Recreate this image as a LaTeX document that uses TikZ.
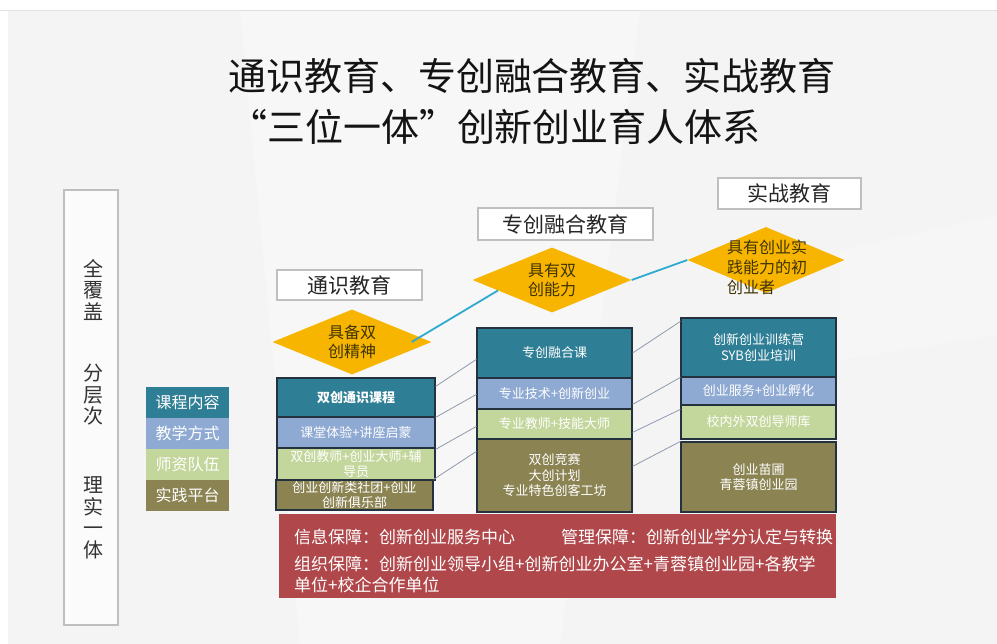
\documentclass[tikz,border=0pt]{standalone}
\usepackage{fontspec}
\setmainfont{Noto Sans CJK SC}
\usepackage{xcolor}
\usetikzlibrary{shapes,arrows,positioning,calc,arrows.meta}

\definecolor{tealc}{HTML}{2E7E95}
\definecolor{bluec}{HTML}{8EA9D2}
\definecolor{greenc}{HTML}{C3D69B}
\definecolor{olivec}{HTML}{8B8352}
\definecolor{redc}{HTML}{B0474A}
\definecolor{goldc}{HTML}{F7B500}
\definecolor{goaltextc}{HTML}{3F3300}
\definecolor{linkc}{HTML}{2EAAD0}
\definecolor{guidec}{HTML}{8D9AAE}
\definecolor{framec}{HTML}{BFBFBF}
\definecolor{bgc}{HTML}{F4F4F4}
\definecolor{edgec}{HTML}{243240}

\begin{document}
\begin{tikzpicture}[x=1pt,y=-1pt,
    tier/.style={draw=edgec, line width=1.2pt, text=white, align=center, inner sep=0pt,
        font=\fontsize{13}{15.5}\selectfont},
    header/.style={draw=framec, line width=1.5pt, fill=white, text=black!85,
        inner sep=0pt, font=\fontsize{21}{24}\selectfont},
    goal/.style={diamond, fill=goldc, inner sep=0pt, shape aspect=2.4,
        minimum width=159pt, minimum height=65pt, align=center, text=goaltextc,
        font=\fontsize{16}{19}\selectfont},
    goaltext/.style={text=goaltextc, align=left, inner sep=0pt, font=\fontsize{16}{20}\selectfont},
    keybox/.style={minimum width=83pt, minimum height=31pt, inner sep=0pt, text=white,
        font=\fontsize{16}{19}\selectfont},
    vtext/.style={align=center, inner sep=0pt, text=black!80, font=\fontsize{20}{21.5}\selectfont},
    supp/.style={text=white, inner sep=0pt, align=left, font=\fontsize{17}{21}\selectfont},
    link/.style={linkc, line width=1.8pt},
    guide/.style={guidec, line width=0.8pt}
]
    \useasboundingbox (0,0) rectangle (997,644);

    % Background
    \fill[white] (0,0) rectangle (997,644);
    \fill[bgc] (8,10) rectangle (997,644);
    \fill[white!30!bgc] (240,10) -- (640,10) -- (560,644) -- (300,644) -- cycle;
    \fill[black!3.5] (840,250) -- (997,215) -- (997,335) -- (840,360) -- cycle;
    \draw[black!12, line width=0.6pt] (0,10) -- (997,10);

    % Title
    \node[font=\fontsize{38}{44}\selectfont, text=black!92] (title1) at (532,76) {通识教育、专创融合教育、实战教育};
    \node[font=\fontsize{38}{44}\selectfont, text=black!92] (title2) at (495,127) {“三位一体”创新创业育人体系};

    % Left span
    \node[draw=framec, line width=1.5pt, fill=white!60!bgc, minimum width=54pt, minimum height=435pt] (span) at (91,407.5) {};
    \node[vtext] (cover) at (93,290) {全\\覆\\盖};
    \node[vtext] (levels) at (93,395) {分\\层\\次};
    \node[vtext] (unity) at (93,518) {理\\实\\一\\体};

    % Legend
    \foreach \lab/\col [count=\i] in {课程内容/tealc, 教学方式/bluec, 师资队伍/greenc, 实践平台/olivec}
        \node[keybox, fill=\col] (k\i) at (187.5,371.5+31*\i) {\lab};

    % Headers
    \node[header, minimum width=145pt, minimum height=30pt] (h1) at (349.5,285) {通识教育};
    \node[header, minimum width=175pt, minimum height=32pt] (h2) at (565.5,224) {专创融合教育};
    \node[header, minimum width=143pt, minimum height=31pt] (h3) at (789.5,193.5) {实战教育};

    % Goals
    \node[goal] (d1) at (352,342) {具备双\\创精神};
    \node[goal] (d2) at (552,280) {具有双\\创能力};
    \node[goal, minimum width=157pt, minimum height=66pt] (d3) at (766,260) {};
    \node[goaltext, anchor=west] (d3t) at (727,267) {具有创业实\\践能力的初\\创业者};

    % Left column
    \node[tier, fill=tealc, minimum width=158pt, minimum height=39pt] (l1) at (356,397.5) {\bfseries 双创通识课程};
    \node[tier, fill=bluec, minimum width=158pt, minimum height=31pt] (l2) at (356,432.5) {课堂体验+讲座启蒙};
    \node[tier, fill=greenc, minimum width=158pt, minimum height=32pt] (l3) at (356,464) {双创教师+创业大师+辅\\导员};
    \node[tier, fill=olivec, minimum width=157pt, minimum height=30pt] (l4) at (354.5,495) {创业创新类社团+创业\\创新俱乐部};

    % Middle column
    \node[tier, fill=tealc, minimum width=155pt, minimum height=50pt] (m1) at (554.5,353) {专创融合课};
    \node[tier, fill=bluec, minimum width=155pt, minimum height=31pt] (m2) at (554.5,393.5) {专业技术+创新创业};
    \node[tier, fill=greenc, minimum width=155pt, minimum height=30pt] (m3) at (554.5,424) {专业教师+技能大师};
    \node[tier, fill=olivec, minimum width=155pt, minimum height=73pt] (m4) at (554.5,475.5) {双创竞赛\\大创计划\\专业特色创客工坊};

    % Right column
    \node[tier, fill=tealc, minimum width=155pt, minimum height=59pt] (r1) at (758.5,347.5) {创新创业训练营\\SYB创业培训};
    \node[tier, fill=bluec, minimum width=155pt, minimum height=28pt] (r2) at (758.5,391) {创业服务+创业孵化};
    \node[tier, fill=greenc, minimum width=155pt, minimum height=34pt] (r3) at (758.5,422) {校内外双创导师库};
    \node[tier, fill=olivec, minimum width=155pt, minimum height=70pt] (r4) at (758.5,477) {创业苗圃\\青蓉镇创业园};

    % Guides between columns
    \draw[guide] ([yshift=-9pt]l1.north east) -- ([yshift=-32pt]m1.north west);
    \draw[guide] ([yshift=-1pt]l2.north east) -- ([yshift=-17pt]m2.north west);
    \draw[guide] ([yshift=-2pt]l3.north east) -- ([yshift=-18pt]m3.north west);
    \draw[guide] (l4.north east) -- ([yshift=-13pt]m4.north west);
    \draw[guide] (m1.east) -- ([yshift=-4pt]r1.north west);
    \draw[guide] ([yshift=-27pt]m2.north east) -- ([yshift=-1pt]r2.north west);
    \draw[guide] ([yshift=-24pt]m3.north east) -- ([yshift=-5pt]r3.north west);
    \draw[guide] ([yshift=-28pt]m4.north east) -- (r4.north west);

    % Growth line
    \draw[link] ([xshift=-20pt]d1.east) -- (d2.191);
    \draw[link] (d2.east) -- (d3.west);

    % Support
    \node[fill=redc, minimum width=557pt, minimum height=84pt, inner sep=0pt] (support) at (557.5,556) {};
    \node[supp, anchor=west] (info) at (294,537) {信息保障：创新创业服务中心};
    \node[supp, anchor=west] (mgmt) at (561,537) {管理保障：创新创业学分认定与转换};
    \node[supp, anchor=west] (org) at (294,574) {组织保障：创新创业领导小组+创新创业办公室+青蓉镇创业园+各教学\\单位+校企合作单位};
\end{tikzpicture}
\end{document}
